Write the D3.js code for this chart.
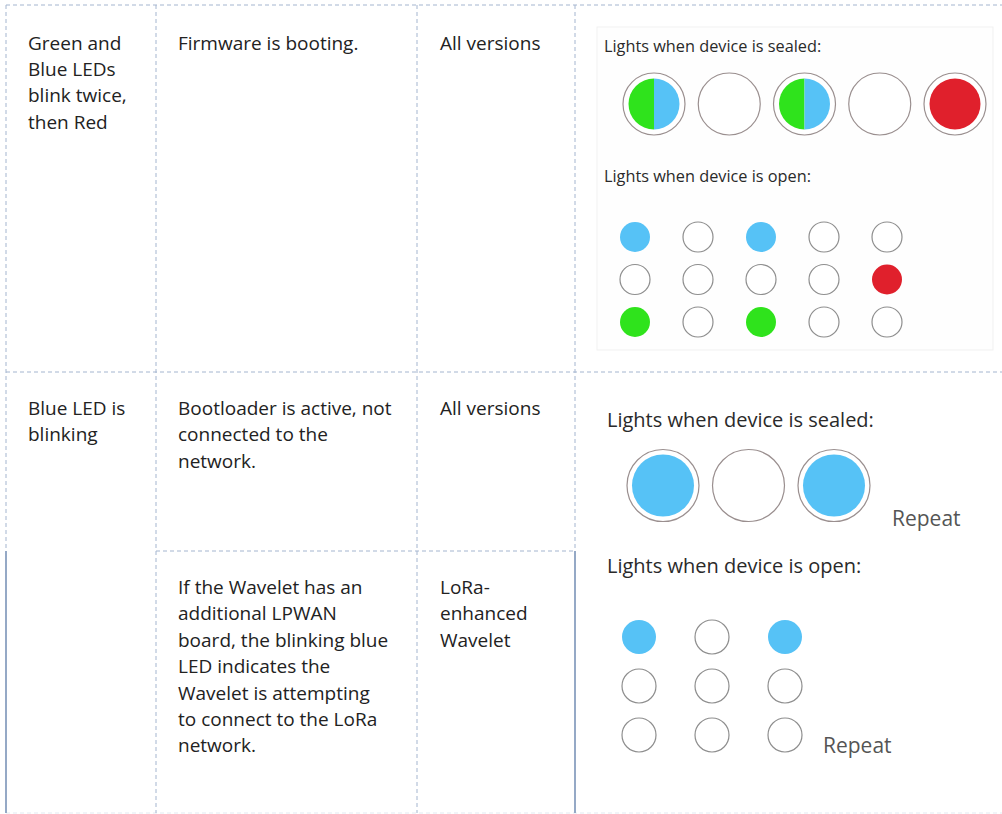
<!DOCTYPE html>
<html>
<head>
<meta charset="utf-8">
<script src="https://cdn.jsdelivr.net/npm/d3@7"></script>
<style>
  html, body { margin: 0; padding: 0; background: #fff; }
  svg { display: block; }
</style>
</head>
<body>
<svg id="chart" width="1002" height="814"></svg>
<script>
// ---------- data ----------
const indicators = [["Green and", "Blue LEDs", "blink twice,", "then Red"], ["Blue LED is", "blinking"]];
const meanings = [
  ["Firmware is booting."],
  ["Bootloader is active, not", "connected to the", "network."],
  ["If the Wavelet has an", "additional LPWAN", "board, the blinking blue", "LED indicates the", "Wavelet is attempting", "to connect to the LoRa", "network."]
];
const versions = [["All versions"], ["All versions"], ["LoRa-", "enhanced", "Wavelet"]];
const panelTitles = ["Lights when device is sealed:", "Lights when device is open:"];
const repeatLabel = "Repeat";

// LED states: gb = half green / half blue
const sealed1 = ["gb", "off", "gb", "off", "red"];
const open1 = [
  ["blue", "off", "blue", "off", "off"],
  ["off", "off", "off", "off", "red"],
  ["green", "off", "green", "off", "off"]
];
const sealed2 = ["blue", "off", "blue"];
const open2 = [
  ["blue", "off", "blue"],
  ["off", "off", "off"],
  ["off", "off", "off"]
];

// ---------- styles ----------
const ledColor = { blue: "#56c2f6", green: "#2fe31c", red: "#e0202c" };
const gridColor = "#a4b5cf";
const solidColor = "#95a9c6";
const textFont = "'Open Sans', sans-serif";

const svg = d3.select("#chart");
svg.append("rect").attr("width", 1002).attr("height", 814).attr("fill", "#fff");

// ---------- row 1 panel background ----------
svg.append("rect").attr("x", 597).attr("y", 27).attr("width", 396).attr("height", 323)
  .attr("fill", "#fefefe").attr("stroke", "#f1f1f1");

// ---------- table borders ----------
const X = { left: 6, c1: 156, c2: 417, c3: 575, right: 1002 };
const Y = { top: 5, r1: 372, sub: 551, bottom: 813 };
const borders = svg.append("g");
function line(x1, y1, x2, y2, dashed, color, w) {
  borders.append("line")
    .attr("x1", x1).attr("y1", y1).attr("x2", x2).attr("y2", y2)
    .attr("stroke", color).attr("stroke-width", w)
    .attr("stroke-dasharray", dashed ? "4,3" : null);
}
line(X.left, Y.top, X.right, Y.top, true, gridColor, 1);
line(X.left, Y.r1, X.right, Y.r1, true, gridColor, 1);
line(X.c1, Y.sub, X.c3, Y.sub, true, gridColor, 1);
line(X.left, Y.bottom, X.right, Y.bottom, true, "#e3e9f1", 1);
line(X.left, Y.top, X.left, Y.sub, true, gridColor, 1);
line(X.left, Y.sub, X.left, Y.bottom, false, solidColor, 2);
line(X.c1, Y.top, X.c1, Y.bottom, true, gridColor, 1);
line(X.c2, Y.top, X.c2, Y.bottom, true, gridColor, 1);
line(X.c3, Y.top, X.c3, Y.sub, true, gridColor, 1);
line(X.c3, Y.sub, X.c3, Y.bottom, false, solidColor, 2);

// ---------- table text ----------
const lh = 26.4;
function textBlock(lines, x, y) {
  const t = svg.append("text")
    .attr("x", x).attr("y", y)
    .attr("font-family", textFont).attr("font-size", 19).attr("fill", "#222");
  t.selectAll("tspan").data(lines).join("tspan")
    .attr("x", x).attr("y", (d, i) => y + i * lh).text(d => d);
}
textBlock(indicators[0], 28, 49.5);
textBlock(indicators[1], 28, 415);
textBlock(meanings[0], 178, 49.5);
textBlock(meanings[1], 178, 415);
textBlock(meanings[2], 178, 594);
textBlock(versions[0], 440, 49.5);
textBlock(versions[1], 440, 415);
textBlock(versions[2], 440, 594);

// ---------- LED drawing helpers ----------
function bigLed(g, state, cx, cy, R, r) {
  g.append("circle").attr("cx", cx).attr("cy", cy).attr("r", R)
    .attr("fill", "#fff").attr("stroke", "#9a8f8f").attr("stroke-width", 1.2);
  if (state === "off") return;
  if (state === "gb") {
    const arc = d3.arc().innerRadius(0).outerRadius(r);
    g.append("path").attr("transform", `translate(${cx},${cy})`)
      .attr("d", arc({ startAngle: Math.PI, endAngle: 2 * Math.PI })).attr("fill", ledColor.green);
    g.append("path").attr("transform", `translate(${cx},${cy})`)
      .attr("d", arc({ startAngle: 0, endAngle: Math.PI })).attr("fill", ledColor.blue);
  } else {
    g.append("circle").attr("cx", cx).attr("cy", cy).attr("r", r).attr("fill", ledColor[state]);
  }
}
function smallGrid(g, grid, xs, ys, r) {
  grid.forEach((row, i) => row.forEach((state, j) => {
    g.append("circle").attr("cx", xs(j)).attr("cy", ys(i)).attr("r", r)
      .attr("fill", state === "off" ? "#fff" : ledColor[state])
      .attr("stroke", state === "off" ? "#8e8e8e" : "none")
      .attr("stroke-width", 1.2);
  }));
}
function panelText(txt, x, y, size, color) {
  svg.append("text").attr("x", x).attr("y", y)
    .attr("font-family", "'Segoe UI', 'Open Sans', sans-serif")
    .attr("font-size", size).attr("fill", color).text(txt);
}

// ---------- row 1 panel ----------
const p1 = svg.append("g");
panelText(panelTitles[0], 604, 52, 16.3, "#2a2a2a");
const xs1 = d3.scalePoint().domain(d3.range(sealed1.length)).range([654, 955]);
sealed1.forEach((s, i) => bigLed(p1, s, xs1(i), 104, 31, 25.5));
panelText(panelTitles[1], 604, 182, 16.3, "#2a2a2a");
const gx1 = d3.scalePoint().domain(d3.range(open1[0].length)).range([635, 887]);
const gy1 = d3.scalePoint().domain(d3.range(open1.length)).range([237, 322]);
smallGrid(p1, open1, gx1, gy1, 15);

// ---------- row 2 panel ----------
const p2 = svg.append("g");
panelText(panelTitles[0], 607, 427, 20, "#2a2a2a");
const xs2 = d3.scalePoint().domain(d3.range(sealed2.length)).range([663, 834]);
sealed2.forEach((s, i) => bigLed(p2, s, xs2(i), 485.5, 36, 31));
panelText(repeatLabel, 892, 526, 21, "#555");
panelText(panelTitles[1], 607, 573, 20, "#2a2a2a");
const gx2 = d3.scalePoint().domain(d3.range(open2[0].length)).range([639, 785]);
const gy2 = d3.scalePoint().domain(d3.range(open2.length)).range([637, 735]);
smallGrid(p2, open2, gx2, gy2, 17);
panelText(repeatLabel, 823, 753, 21, "#555");
</script>
</body>
</html>
